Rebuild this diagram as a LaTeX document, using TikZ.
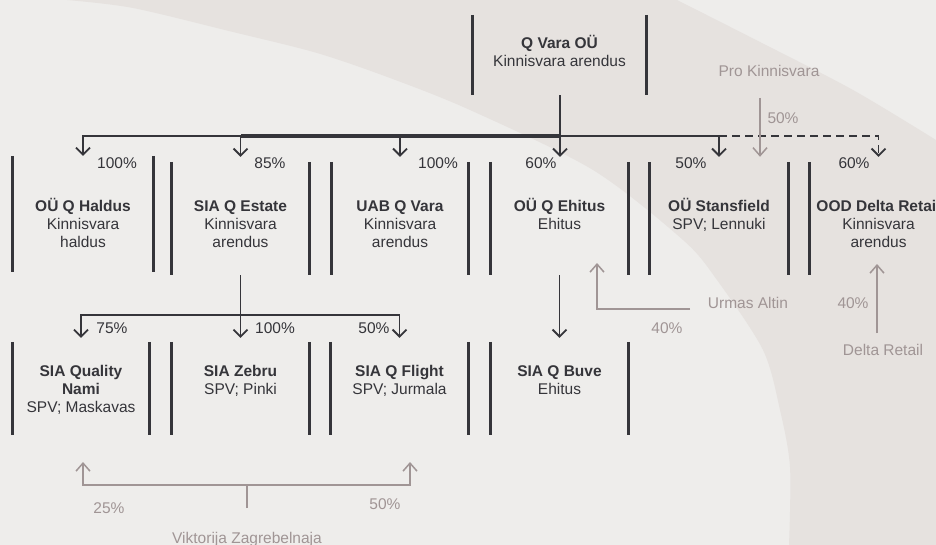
\documentclass[tikz,border=0pt]{standalone}
\usepackage{fontspec}
\setmainfont{Liberation Sans}
\usetikzlibrary{arrows.meta}
\definecolor{bglight}{HTML}{EEEDEB}
\definecolor{bgdark}{HTML}{E6E2DF}
\definecolor{ink}{HTML}{35353A}
\definecolor{taupe}{HTML}{A09595}
\tikzset{
  box/.style={rectangle, draw=none, inner sep=0pt, minimum width=#1},
  box/.default=137pt,
  bar/.style={ink, line width=3pt},
  boxtext/.style={anchor=north, inner sep=0pt, align=center, text=ink,
    font=\fontsize{15.5}{18}\selectfont},
  pct/.style={anchor=base, inner sep=0pt, text=ink, font=\fontsize{15.5}{18}\selectfont},
  opct/.style={anchor=base, inner sep=0pt, text=taupe, font=\fontsize{15.5}{18}\selectfont},
  owner/.style={anchor=base, inner sep=0pt, text=taupe, font=\fontsize{15.5}{18}\selectfont},
  conn/.style={ink, line width=1.8pt, -{Straight Barb[length=7pt,width=14pt,line width=1.8pt]}},
  plain/.style={ink, line width=1.8pt},
  heavy/.style={ink, line width=3.3pt},
  own/.style={taupe, line width=1.5pt},
  ownarrow/.style={taupe, line width=1.5pt, -{Straight Barb[length=8pt,width=14pt,line width=1.5pt]}},
}
\newcommand{\fl}{\rule{0pt}{15pt}}
\begin{document}
\begin{tikzpicture}[x=1pt,y=-1pt]
\useasboundingbox (0,0) rectangle (936,545);
\clip (0,0) rectangle (936,545);
% background
\fill[bglight] (0,0) rectangle (936,545);
\fill[bgdark] plot[smooth] coordinates {(67,0) (133,8) (233,32) (317,53) (390,78) (470,110) (593,170) (683,240) (717,280) (763,350) (780,410) (790,467) (789,545)}
  -- (936,545) -- (936,140)
  -- plot[smooth] coordinates {(936,140) (853,90) (760,42) (677,0)} -- cycle;

% boxes
\node[box=173pt, minimum height=80pt] (top) at (559.5,55) {};
\node[box=140pt, minimum height=116pt] (hal) at (83,214) {};
\node[box=137pt, minimum height=113pt] (est) at (240.5,218.5) {};
\node[box=136pt, minimum height=113pt] (uab) at (400,218.5) {};
\node[box=137pt, minimum height=113pt] (ehi) at (559.5,218.5) {};
\node[box=138pt, minimum height=113pt] (sta) at (719,218.5) {};
\node[box=137pt, minimum height=113pt] (del) at (878.5,218.5) {};
\node[box=136pt, minimum height=93pt] (nam) at (81,388.5) {};
\node[box=137pt, minimum height=93pt] (zeb) at (240.5,388.5) {};
\node[box=137pt, minimum height=93pt] (fli) at (399.5,388.5) {};
\node[box=137pt, minimum height=93pt] (buv) at (559.5,388.5) {};
\foreach \n in {top,hal,est,uab,ehi,sta,del,nam,zeb,fli,buv}
  \draw[bar] (\n.north west) -- (\n.south west) (\n.north east) -- (\n.south east);

% box texts
\node[boxtext] (topT) at (559.5,33.5) {\fl\textbf{Q Vara OÜ}\\Kinnisvara arendus};
\node[boxtext] (halT) at (83,196) {\fl\textbf{OÜ Q Haldus}\\Kinnisvara\\haldus};
\node[boxtext] (estT) at (240.5,196) {\fl\textbf{SIA Q Estate}\\Kinnisvara\\arendus};
\node[boxtext] (uabT) at (400,196) {\fl\textbf{UAB Q Vara}\\Kinnisvara\\arendus};
\node[boxtext] (ehiT) at (559.5,196) {\fl\textbf{OÜ Q Ehitus}\\Ehitus};
\node[boxtext] (staT) at (719,196) {\fl\textbf{OÜ Stansfield}\\SPV; Lennuki};
\node[boxtext] (delT) at (878.5,196) {\fl\textbf{OOD Delta Retail}\\Kinnisvara\\arendus};
\node[boxtext] (namT) at (81,361) {\fl\textbf{SIA Quality}\\\textbf{Nami}\\SPV; Maskavas};
\node[boxtext] (zebT) at (240.5,361) {\fl\textbf{SIA Zebru}\\SPV; Pinki};
\node[boxtext] (fliT) at (399.5,361) {\fl\textbf{SIA Q Flight}\\SPV; Jurmala};
\node[boxtext] (buvT) at (559.5,361) {\fl\textbf{SIA Q Buve}\\Ehitus};

% main connectors
\coordinate (j1) at (560,136);
\draw[plain] (top.south -| j1) -- (j1);
\draw[heavy] (j1) -- (j1 -| est.north);
\draw[conn] (j1) -| (hal.north);
\draw[conn, shorten >=5pt] (j1) -| (est.north);
\draw[conn, shorten >=5pt] (j1) -| (uab.north);
\draw[conn, shorten >=5pt] (j1) -- (j1 |- ehi.north);
\draw[conn, shorten >=5pt] (j1) -| (sta.north);
\draw[conn, dashed, dash pattern=on 8pt off 5pt, shorten >=5pt] (j1 -| sta.north) -| (del.north);

\coordinate (j2) at (240.5,315);
\draw[plain] (est.south) -- (j2);
\draw[conn, shorten >=4pt] (j2) -| (nam.north);
\draw[conn, shorten >=4pt] (j2) -- (zeb.north);
\draw[conn, shorten >=4pt] (j2) -| (fli.north);
\draw[conn, shorten >=4pt] (ehi.south) -- (buv.north);

% percentages
\node[pct] (p1) at (117,168.5) {100\%};
\node[pct] (p2) at (270,168.5) {85\%};
\node[pct] (p3) at (438,168.5) {100\%};
\node[pct] (p4) at (541,168.5) {60\%};
\node[pct] (p5) at (691,168.5) {50\%};
\node[pct] (p6) at (854,168.5) {60\%};
\node[pct] (p7) at (112,333.5) {75\%};
\node[pct] (p8) at (275,333.5) {100\%};
\node[pct] (p9) at (374,333.5) {50\%};

% outside owners
\node[owner] (pro) at (769,76.5) {Pro Kinnisvara};
\coordinate (proA) at (760,98);
\draw[ownarrow, shorten >=5pt] (proA) -- (proA |- sta.north);
\node[opct] (o1) at (783,123.5) {50\%};

\node[owner] (urm) at (748,308.5) {Urmas Altin};
\coordinate (urmA) at (690,309);
\coordinate (urmT) at (597,263);
\draw[ownarrow] (urmA) -| (urmT);
\node[opct] (o2) at (667,333.5) {40\%};

\node[owner] (dr) at (883,355.5) {Delta Retail};
\coordinate (drA) at (877,333);
\coordinate (drT) at (877,264);
\draw[ownarrow] (drA) -- (drT);
\node[opct] (o3) at (853,308.5) {40\%};

\node[owner] (vik) at (247,543.5) {Viktorija Zagrebelnaja};
\coordinate (vikA) at (247,508);
\coordinate (vj) at (247,485);
\coordinate (vL) at (83,462);
\coordinate (vR) at (410,462);
\draw[own] (vikA) -- (vj);
\draw[ownarrow] (vj) -| (vL);
\draw[ownarrow] (vj) -| (vR);
\node[opct] (o4) at (109,513.5) {25\%};
\node[opct] (o5) at (385,509.5) {50\%};
\end{tikzpicture}
\end{document}
